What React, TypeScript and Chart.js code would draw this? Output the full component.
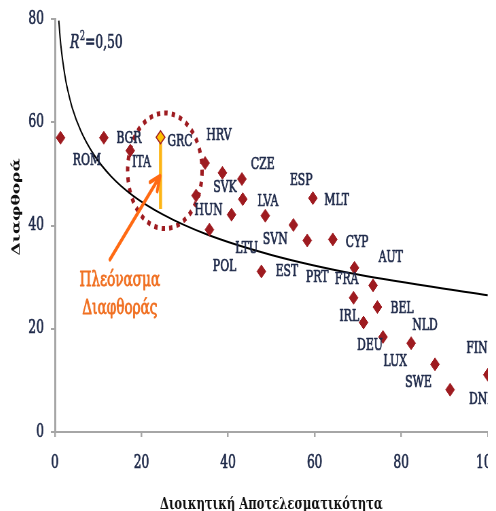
import React, { useEffect, useRef } from "react";
import { Chart, registerables } from "chart.js";

Chart.register(...registerables);

// ---- data ----
const countries = ["ROM", "BGR", "ITA", "GRC", "HRV", "SVK", "CZE", "HUN", "LVA", "LTU", "POL", "SVN", "ESP", "MLT", "EST", "CYP", "PRT", "FRA", "AUT", "BEL", "IRL", "NLD", "DEU", "LUX", "FIN", "SWE", "DNK"];
const efficiency = [1.3, 11.3, 17.4, 24.4, 34.7, 38.7, 43.2, 32.6, 43.4, 40.8, 35.7, 48.6, 55.1, 59.6, 47.7, 64.2, 58.3, 69.2, 73.5, 74.5, 69.0, 82.3, 71.3, 75.8, 100, 87.8, 91.3];
const corruption = [57.0, 57.0, 54.5, 57.1, 52.1, 50.2, 49.0, 45.8, 45.1, 42.1, 39.2, 41.9, 40.1, 45.3, 31.1, 37.3, 37.1, 31.8, 28.4, 24.2, 26.0, 17.2, 21.2, 18.4, 11.1, 13.1, 8.2];
// label anchors (data units)
const labelX = [7.4, 17.1, 20.0, 28.9, 37.9, 39.3, 48.0, 35.5, 49.2, 44.3, 39.2, 50.9, 56.9, 65.1, 53.6, 69.8, 60.6, 67.4, 77.6, 80.2, 68.0, 85.5, 72.8, 78.6, 97.5, 84.0, 98.7];
const labelY = [52.5, 56.8, 52.2, 56.3, 57.3, 47.2, 51.7, 42.9, 44.6, 35.5, 31.9, 37.2, 48.6, 44.7, 31.0, 36.7, 29.8, 29.5, 33.7, 23.9, 22.3, 20.5, 16.7, 13.6, 16.2, 9.5, 6.2];

// fitted trend curve
const trendX = [0.9, 1.2, 1.5, 2, 2.5, 3, 4, 6, 9, 13, 18, 25, 35, 50, 70, 100];
const trendY = [79.7, 76.4, 73.9, 70.7, 68.1, 66.1, 62.8, 58.3, 53.7, 49.5, 45.8, 42.1, 38.3, 34.3, 30.5, 26.5];

// "surplus" segment for GRC
const surplusX = [24.4, 24.4];
const surplusY = [56.0, 43.2];

const xTicks = [0, 20, 40, 60, 80, 100];
const yTicks = [0, 20, 40, 60, 80];

const r2Text = "0,50";
const noteLines = ["Πλεόνασμα", "Διαφθοράς"];
const xTitle = "Διοικητική Αποτελεσματικότητα";
const yTitle = "Διαφθορά";

// annotation anchors (data units)
const circleCenter = [25.4, 50.6];
const circleRadius = [8.6, 11.2];
const arrowFrom = [12.7, 33.4];
const arrowTo = [24.3, 49.6];
const noteAnchorX = 15.0;
const noteAnchorY = [29.3, 23.9];
const r2Anchor = [3.5, 75.3];

const SERIF = "'DejaVu Serif', 'Liberation Serif', serif";
const NAVY = "#1f2a4a";
const RED = "#9e1b20";
const ORANGE_TXT = "#f07022";
const AXIS = "#a6a6a6";
const SX = 0.68; // horizontal squeeze of the reference picture
const CW = 740;
const CH = 503;

function heavyText(ctx: CanvasRenderingContext2D, t: string, x: number, y: number, color: string, w = 0.7) {
  ctx.fillStyle = color;
  ctx.strokeStyle = color;
  ctx.lineWidth = w;
  ctx.lineJoin = "round";
  ctx.strokeText(t, x, y);
  ctx.fillText(t, x, y);
}

export default function App() {
  const ref = useRef<HTMLCanvasElement>(null);

  useEffect(() => {
    const canvas = ref.current!;
    const annot = {
      id: "annot",
      beforeDatasetsDraw(chart: any) {
        const { ctx } = chart;
        const x = chart.scales.x;
        const y = chart.scales.y;
        const cx = x.getPixelForValue(circleCenter[0]);
        const cy = y.getPixelForValue(circleCenter[1]);
        const rx = x.getPixelForValue(circleCenter[0] + circleRadius[0]) - cx;
        const ry = cy - y.getPixelForValue(circleCenter[1] + circleRadius[1]);
        ctx.save();
        ctx.beginPath();
        ctx.ellipse(cx, cy, rx, ry, 0, 0, Math.PI * 2);
        ctx.setLineDash([5, 6]);
        ctx.lineWidth = 5;
        ctx.strokeStyle = RED;
        ctx.stroke();
        ctx.restore();
      },
      afterDatasetsDraw(chart: any) {
        const { ctx, chartArea } = chart;
        const x = chart.scales.x;
        const y = chart.scales.y;
        ctx.save();
        // country labels
        ctx.font = `16px ${SERIF}`;
        ctx.textAlign = "center";
        ctx.textBaseline = "middle";
        countries.forEach((c, i) => {
          heavyText(ctx, c, x.getPixelForValue(labelX[i]), y.getPixelForValue(labelY[i]), NAVY);
        });
        // arrow
        const x0 = x.getPixelForValue(arrowFrom[0]);
        const y0 = y.getPixelForValue(arrowFrom[1]);
        const x1 = x.getPixelForValue(arrowTo[0]);
        const y1 = y.getPixelForValue(arrowTo[1]);
        ctx.strokeStyle = "#ff6a13";
        ctx.lineWidth = 4;
        ctx.lineCap = "round";
        ctx.beginPath();
        ctx.moveTo(x0, y0);
        ctx.lineTo(x1, y1);
        const ang = Math.atan2(y1 - y0, x1 - x0);
        const hl = 16;
        ctx.moveTo(x1 - hl * Math.cos(ang - 0.45), y1 - hl * Math.sin(ang - 0.45));
        ctx.lineTo(x1, y1);
        ctx.lineTo(x1 - hl * Math.cos(ang + 0.45), y1 - hl * Math.sin(ang + 0.45));
        ctx.stroke();
        // note text
        ctx.font = `20px ${SERIF}`;
        noteLines.forEach((t, i) => {
          heavyText(ctx, t, x.getPixelForValue(noteAnchorX), y.getPixelForValue(noteAnchorY[i]), ORANGE_TXT, 0.9);
        });
        // R^2
        let rx = x.getPixelForValue(r2Anchor[0]);
        const ry = y.getPixelForValue(r2Anchor[1]);
        ctx.textAlign = "left";
        ctx.font = `italic 18px ${SERIF}`;
        heavyText(ctx, "R", rx, ry, NAVY);
        rx += ctx.measureText("R").width + 1;
        ctx.font = `12px ${SERIF}`;
        heavyText(ctx, "2", rx, ry - 6, NAVY, 0.5);
        rx += ctx.measureText("2").width;
        ctx.font = `18px ${SERIF}`;
        heavyText(ctx, "=" + r2Text, rx, ry, NAVY);
        // y title
        ctx.translate(chartArea.left - 56, (chartArea.top + chartArea.bottom) / 2 - 18.5);
        ctx.rotate(-Math.PI / 2);
        ctx.textAlign = "center";
        ctx.font = `bold 17px ${SERIF}`;
        ctx.fillStyle = "#111";
        ctx.fillText(yTitle, 0, 0);
        ctx.restore();
      },
    };

    const chart = new Chart(canvas, {
      type: "scatter",
      data: {
        datasets: [
          {
            label: "countries",
            data: efficiency.map((v, i) => ({ x: v, y: corruption[i] })),
            pointStyle: "rectRot",
            pointRadius: 6.5,
            pointBackgroundColor: (c: any) => (countries[c.dataIndex] === "GRC" ? "#ffc000" : RED),
            pointBorderColor: RED,
            pointBorderWidth: (c: any) => (countries[c.dataIndex] === "GRC" ? 1.5 : 1),
            showLine: false,
            clip: false,
            order: 1,
          } as any,
          {
            label: "trend",
            data: trendX.map((v, i) => ({ x: v, y: trendY[i] })),
            showLine: true,
            borderColor: "#000",
            borderWidth: 2,
            pointRadius: 0,
            cubicInterpolationMode: "monotone",
            order: 2,
          } as any,
          {
            label: "surplus",
            data: surplusX.map((v, i) => ({ x: v, y: surplusY[i] })),
            showLine: true,
            borderColor: "#fdb515",
            borderWidth: 4.5,
            pointRadius: 0,
            order: 3,
          } as any,
        ],
      },
      options: {
        animation: false,
        responsive: false,
        events: [],
        layout: { padding: { top: 11, right: 34.2, bottom: 0, left: 0 } },
        plugins: { legend: { display: false }, tooltip: { enabled: false } },
        scales: {
          x: {
            type: "linear",
            min: 0,
            max: 100,
            afterBuildTicks: (s: any) => {
              s.ticks = xTicks.map((v) => ({ value: v }));
            },
            ticks: {
              color: NAVY,
              font: { family: SERIF, size: 18, lineHeight: 1 },
              textStrokeColor: NAVY,
              textStrokeWidth: 0.7,
              padding: 17,
              maxRotation: 0,
              autoSkip: false,
            },
            grid: { drawOnChartArea: false, drawTicks: true, tickLength: 5, color: AXIS, lineWidth: 2.5 },
            border: { display: true, color: AXIS, width: 2 },
            title: {
              display: true,
              text: xTitle,
              color: "#111",
              font: { family: SERIF, size: 17, weight: "bold", lineHeight: 1 },
              padding: { top: 0, bottom: -2 },
            },
            afterFit: (s: any) => {
              s.height = 79;
            },
          },
          y: {
            type: "linear",
            min: 0,
            max: 80,
            afterBuildTicks: (s: any) => {
              s.ticks = yTicks.map((v) => ({ value: v }));
            },
            ticks: {
              color: NAVY,
              font: { family: SERIF, size: 18, lineHeight: 0.1 },
              textStrokeColor: NAVY,
              textStrokeWidth: 0.7,
              padding: 10,
              autoSkip: false,
            },
            grid: { drawOnChartArea: false, drawTicks: true, tickLength: 6, color: AXIS, lineWidth: 2 },
            border: { display: true, color: AXIS, width: 3 },
            afterFit: (s: any) => {
              s.width = 69;
            },
          },
        },
      } as any,
      plugins: [annot],
    });
    return () => chart.destroy();
  }, []);

  return (
    <div style={{ width: 488, height: CH, overflow: "hidden" }}>
      <canvas
        ref={ref}
        width={CW}
        height={CH}
        style={{ width: `${CW * SX}px`, height: `${CH}px`, display: "block" }}
      />
    </div>
  );
}
